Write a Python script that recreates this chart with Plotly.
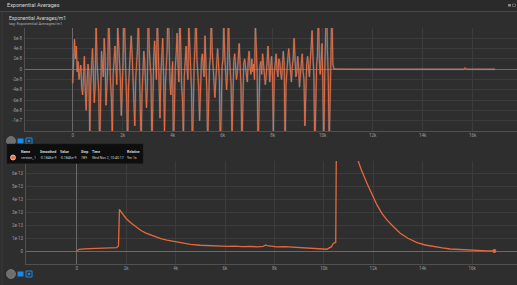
import plotly.graph_objects as go

W, H = 517, 285

# ---------------- data ----------------
# top chart: Exponential Averages/m1 (values in units of 1e-8), one value every 36 steps
top_steps = list(range(0, 10440, 36))
top_vals_e8 = [
    -2.7, 3.0, 5.8, 2.0, 4.5, -0.5, 1.5, -2.0, -1.0, 0.8,
    -3.5, -5.0, -1.5, 2.5, -4.0, -8.0, -2.5, 1.0, -0.5, -13,
    -3.0, 2.0, 4.0, -1.0, -6.5, -3.0, 9.5, 1.5, -2.0, -4.5,
    -16, -2.0, 3.5, 1.0, -1.5, 6.0, 2.5, -7.0, -3.5, 0.5,
    12, 3.0, -2.5, -5.5, -14, -1.0, 2.0, 4.5, 1.0, -3.0,
    8.5, 5.0, -0.5, -2.0, -9.0, -4.0, 1.5, 13, 3.5, -1.0,
    -6.0, -16, -3.5, 0.5, 2.5, 6.5, 3.0, -1.5, -4.5, -11,
    -2.0, 1.0, 4.0, 10, 2.0, -3.0, -15, -5.0, 0.0, 3.5,
    1.5, -2.5, -7.5, -3.0, 14, 4.0, 0.5, -1.5, -16, -4.0,
    2.0, 5.5, 1.0, -2.0, 11, 3.0, -3.5, -9.5, -1.0, 2.5,
    6.0, -1.5, -12, -3.0, 1.0, 4.0, 15, 2.5, -2.0, -5.0,
    -1.0, 1.5, -16, -4.5, 0.5, 3.0, 7.0, 1.0, -2.5, 12,
    2.0, -3.0, -6.0, -14, -1.5, 2.5, 4.5, 0.5, -2.0, 9.0,
    3.5, -1.0, -4.0, -16, -2.5, 1.0, 5.0, 13, 2.0, -1.5,
    -3.5, -10, -2.0, 1.5, 3.0, 0.0, -1.5, 6.5, 2.0, -4.0,
    -15, -3.0, 0.5, 2.5, 11, 3.5, -1.0, -2.5, -5.5, -1.0,
    1.0, 4.0, 1.5, -2.0, -16, -3.5, 0.5, 2.0, 8.0, 2.5,
    -1.5, -4.0, -0.5, 12, 3.0, -1.0, -3.0, -13, -2.0, 1.5,
    3.0, 1.0, -2.0, -0.5, 2.5, 5.0, 1.0, -3.5, -16, -1.5,
    1.0, 2.0, 0.5, -1.5, -2.5, 1.5, 3.5, 0.5, -1.0, 2.0,
    -0.5, 1.0, -2.0, 9.0, 2.0, -1.0, -16, -2.0, 0.5, 1.5,
    -1.0, 3.0, 1.0, -0.5, -3.0, -1.5, 2.0, 4.5, 1.0, -2.5,
    0.5, 2.5, -1.5, -12, -1.0, 1.0, 3.0, 0.0, -1.5, 2.0,
    1.5, -0.5, -2.0, 0.5, 3.5, 1.0, -16, -3.0, 0.5, 2.0,
    4.0, 1.5, -1.0, -2.5, 0.5, 2.0, 6.0, 1.0, -1.5, -0.5,
    2.5, 0.5, -3.5, -1.0, 1.0, 3.0, -0.5, -2.0, -11, -1.5,
    1.0, 2.5, 0.0, -1.5, 1.5, 4.5, 7.5, 2.0, -1.0, -16,
    -2.5, 0.5, 3.0, 12, 2.0, -1.0, 1.5, 5.0, -3.0, -16,
    -1.0, 2.5, 14, 4.0, -2.0, -15, -1.0, 3.0, 13, 1.0,
]
tail_steps = [10450, 10560, 12000, 14000, 15650, 15700, 15750, 16900]
tail_vals_e8 = [0.05, 0.02, 0.0, 0.0, 0.0, 0.25, 0.0, 0.0]

# bottom chart (values in units of 1e-13)
bot_steps = [0, 100, 300, 600, 900, 1200, 1500, 1620, 1690, 1730, 1760, 1850, 2000,
             2200, 2400, 2600, 2800, 3100, 3400, 3650, 3900, 4200, 4600, 5000, 5300,
             5530, 5800, 6100, 6400, 6700, 7000, 7300, 7550, 7650, 7700, 7800, 8100,
             8400, 8770, 9100, 9400, 9700, 10000, 10120, 10200, 10260, 10300, 10390,
             10480, 10520, 10560, 10700, 10900, 11100, 11300, 11500, 11740, 11950,
             12150, 12350, 12550, 12800, 13090, 13400, 13770, 14100, 14440, 14800,
             15110, 15450, 15790, 16200, 16600, 16900]
bot_vals_e13 = [0.06, 0.17, 0.2, 0.22, 0.25, 0.27, 0.29, 0.3, 0.43, 3.27, 3.15, 2.95, 2.55,
                2.2, 1.9, 1.62, 1.42, 1.18, 1.0, 0.88, 0.78, 0.68, 0.55, 0.48, 0.45,
                0.42, 0.44, 0.4, 0.42, 0.38, 0.4, 0.36, 0.4, 0.5, 0.45, 0.42, 0.36,
                0.38, 0.33, 0.3, 0.27, 0.25, 0.2, 0.17, 0.26, 0.33, 0.35, 0.64,
                0.7, 12, 30, 22, 15, 10.5, 7.5, 6.4, 5.29, 4.35,
                3.6, 2.95, 2.44, 1.95, 1.41, 1.02, 0.68, 0.5, 0.37, 0.27,
                0.19, 0.15, 0.12, 0.08, 0.05, 0.04]

x_tickvals = [0, 2000, 4000, 6000, 8000, 10000, 12000, 14000, 16000]
x_ticktext = ["0", "2k", "4k", "6k", "8k", "10k", "12k", "14k", "16k"]
top_y_tickvals = [6e-8, 4e-8, 2e-8, 0, -2e-8, -4e-8, -6e-8, -8e-8, -1e-7]
top_y_ticktext = ["6e-8", "4e-8", "2e-8", "0", "-2e-8", "-4e-8", "-6e-8", "-8e-8", "-1e-7"]
bot_y_tickvals = [0, 1e-13, 2e-13, 3e-13, 4e-13, 5e-13, 6e-13, 7e-13]
bot_y_ticktext = ["0", "1e-13", "2e-13", "3e-13", "4e-13", "5e-13", "6e-13", ""]

tooltip_header = ["Name", "Smoothed", "Value", "Step", "Time", "Relative"]
tooltip_row = ["version_1", "-0.1846e-9", "-0.1846e-9", "789", "Wed Nov 2, 10:40:17", "9m 1s"]

# ---------------- build ----------------
top_x = top_steps + tail_steps
top_y = [v * 1e-8 for v in top_vals_e8 + tail_vals_e8]
bot_y = [v * 1e-13 for v in bot_vals_e13]

BG = "#2e2e2e"
GRID = "#3c3c3c"
ZERO = "#6a6a6a"
ORANGE = "#f26d3d"
TICKC = "#9a9a9a"
FONT = "Roboto"

def px(x):
    return x / W

def py(y):
    return 1 - y / H

fig = go.Figure()
fig.add_trace(go.Scatter(x=top_x, y=top_y, mode="lines", xaxis="x", yaxis="y",
                         line=dict(color="rgba(120,155,180,0.35)", width=2.0),
                         hoverinfo="skip", showlegend=False))
fig.add_trace(go.Scatter(x=top_x, y=top_y, mode="lines", xaxis="x", yaxis="y",
                         line=dict(color=ORANGE, width=0.9),
                         showlegend=False))
fig.add_trace(go.Scatter(x=bot_steps, y=bot_y, mode="lines", xaxis="x2", yaxis="y2",
                         line=dict(color="#e4683c", width=1.3), showlegend=False))
fig.add_trace(go.Scatter(x=[bot_steps[-1]], y=[bot_y[-1]], mode="markers",
                         xaxis="x2", yaxis="y2",
                         marker=dict(color="#e4683c", size=4), showlegend=False))

axis_common = dict(gridcolor=GRID, gridwidth=1, zeroline=True, zerolinecolor=ZERO,
                   zerolinewidth=1, tickfont=dict(size=4.5, color=TICKC, family=FONT),
                   ticks="", showline=True, linecolor="#505050", linewidth=1)

fig.update_layout(
    width=W, height=H, margin=dict(l=0, r=0, t=0, b=0),
    paper_bgcolor=BG, plot_bgcolor=BG, showlegend=False,
    font=dict(family=FONT, color=TICKC),
    xaxis=dict(domain=[px(25), 1], range=[-1908, 17772], tickmode="array",
               tickvals=x_tickvals, ticktext=x_ticktext, anchor="y",
               ticklabelstandoff=0, **axis_common),
    yaxis=dict(domain=[py(131), py(28)], range=[-1.2e-7, 8e-8], tickmode="array",
               tickvals=top_y_tickvals, ticktext=top_y_ticktext, anchor="x",
               ticklabelstandoff=1, **axis_common),
    xaxis2=dict(domain=[px(26), 1], range=[-2052, 17815], tickmode="array",
                tickvals=x_tickvals, ticktext=x_ticktext, anchor="y2",
                ticklabelstandoff=0, **axis_common),
    yaxis2=dict(domain=[py(264), py(161)], range=[-0.97e-13, 7e-13], tickmode="array",
                tickvals=bot_y_tickvals, ticktext=bot_y_ticktext, anchor="x2",
                ticklabelstandoff=1, **axis_common),
)

shapes = []
# header bar
shapes.append(dict(type="rect", xref="paper", yref="paper", x0=0, x1=1, y0=py(11.5), y1=1,
                   fillcolor="#2a2a2a", line=dict(width=0), layer="below"))
shapes.append(dict(type="line", xref="paper", yref="paper", x0=0, x1=1, y0=py(11.5), y1=py(11.5),
                   line=dict(color="#474747", width=1.2)))
shapes.append(dict(type="line", xref="paper", yref="paper", x0=px(2), x1=px(2), y0=0, y1=py(13),
                   line=dict(color="#3a3a3a", width=1)))
# header right icons
shapes.append(dict(type="rect", xref="paper", yref="paper", x0=px(508), x1=px(511), y0=py(6.5), y1=py(4),
                   fillcolor="#888", line=dict(width=0)))
shapes.append(dict(type="rect", xref="paper", yref="paper", x0=px(512.5), x1=px(515.5), y0=py(6.5), y1=py(4),
                   fillcolor="rgba(0,0,0,0)", line=dict(color="#888", width=0.6)))
# icon rows under each chart
for yc in (141, 274):
    shapes.append(dict(type="circle", xref="paper", yref="paper", x0=px(6.5), x1=px(15.5),
                       y0=py(yc + 4.5), y1=py(yc - 4.5), fillcolor="#6e6e6e",
                       line=dict(color="#8a8a8a", width=0.6)))
    shapes.append(dict(type="rect", xref="paper", yref="paper", x0=px(17.5), x1=px(23.5),
                       y0=py(yc + 2.5), y1=py(yc - 2.5), fillcolor="#1e88e5", line=dict(width=0)))
    shapes.append(dict(type="rect", xref="paper", yref="paper", x0=px(26), x1=px(32),
                       y0=py(yc + 3), y1=py(yc - 3), fillcolor="rgba(0,0,0,0)",
                       line=dict(color="#1e88e5", width=1)))
    shapes.append(dict(type="rect", xref="paper", yref="paper", x0=px(27.8), x1=px(30.2),
                       y0=py(yc + 1.2), y1=py(yc - 1.2), fillcolor="#1e88e5", line=dict(width=0)))
# tooltip box
shapes.append(dict(type="rect", xref="paper", yref="paper", x0=px(7), x1=px(143), y0=py(163.5), y1=py(144),
                   fillcolor="#0e0e0e", line=dict(color="#1a1a1a", width=0.5), layer="above"))
shapes.append(dict(type="circle", xref="paper", yref="paper", x0=px(10.5), x1=px(15.5),
                   y0=py(160), y1=py(155), fillcolor=ORANGE, line=dict(color="#ffffff", width=0.6),
                   layer="above"))
fig.update_layout(shapes=shapes)

ann = []
ann.append(dict(x=px(5), y=py(5.5), xref="paper", yref="paper", text="Exponential Averages",
                showarrow=False, xanchor="left", yanchor="middle",
                font=dict(size=5.5, color="#d6d6d6", family=FONT)))
ann.append(dict(x=px(7), y=py(18.5), xref="paper", yref="paper", text="Exponential Averages/m1",
                showarrow=False, xanchor="left", yanchor="middle",
                font=dict(size=5, color="#d6d6d6", family=FONT)))
ann.append(dict(x=px(7), y=py(23.5), xref="paper", yref="paper", text="tag: Exponential Averages/m1",
                showarrow=False, xanchor="left", yanchor="middle",
                font=dict(size=4, color="#b0b0b0", family=FONT)))
col_x = [19, 37.5, 58, 79, 89.5, 125]
for cx, h, r in zip(col_x, tooltip_header, tooltip_row):
    ann.append(dict(x=px(cx), y=py(151.5), xref="paper", yref="paper", text="<b>" + h + "</b>",
                    showarrow=False, xanchor="left", yanchor="middle",
                    font=dict(size=3.5, color="#dddddd", family=FONT)))
    ann.append(dict(x=px(cx), y=py(157.5), xref="paper", yref="paper", text=r,
                    showarrow=False, xanchor="left", yanchor="middle",
                    font=dict(size=3.5, color="#cfcfcf", family=FONT)))
fig.update_layout(annotations=ann)

fig.write_html("out.html")
